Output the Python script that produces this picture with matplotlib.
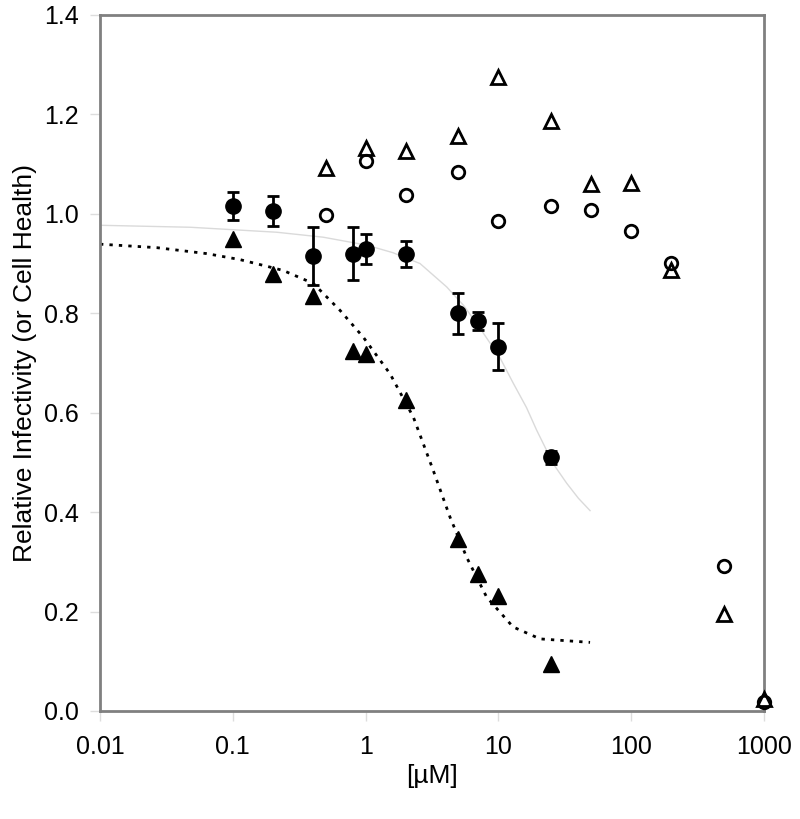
import matplotlib
matplotlib.use("Agg")
import matplotlib.pyplot as plt
from matplotlib.ticker import FixedLocator, FixedFormatter, NullLocator

plt.rcParams['font.family'] = ['Liberation Sans', 'DejaVu Sans']

# Filled circles (infectivity, with error bars)
fc_x = [0.1, 0.2, 0.4, 0.8, 1.0, 2, 5, 7, 10, 25]
fc_y = [1.015, 1.005, 0.915, 0.920, 0.930, 0.920, 0.800, 0.785, 0.733, 0.510]
fc_err = [0.028, 0.030, 0.058, 0.053, 0.030, 0.026, 0.041, 0.018, 0.047, 0.013]

# Filled triangles
ft_x = [0.1, 0.2, 0.4, 0.8, 1.0, 2, 5, 7, 10, 25]
ft_y = [0.950, 0.878, 0.835, 0.725, 0.718, 0.625, 0.345, 0.275, 0.232, 0.095]

# Open circles (cell health)
oc_x = [0.5, 1, 2, 5, 10, 25, 50, 100, 200, 500, 1000]
oc_y = [0.997, 1.107, 1.037, 1.085, 0.985, 1.015, 1.008, 0.965, 0.902, 0.292, 0.018]

# Open triangles (cell health)
ot_x = [0.5, 1, 2, 5, 10, 25, 50, 100, 200, 500, 1000]
ot_y = [1.092, 1.132, 1.127, 1.157, 1.275, 1.187, 1.060, 1.062, 0.887, 0.195, 0.025]

# Fitted curve for filled circles (light grey solid)
gc_x = [0.01, 0.048, 0.214, 0.48, 1.02, 1.6, 2.57, 4.08, 5.5, 7.27, 10.3, 12.9, 16.3, 19.4, 25.9, 32.7, 40.0, 49]
gc_y = [0.977, 0.973, 0.963, 0.953, 0.937, 0.922, 0.900, 0.853, 0.815, 0.770, 0.710, 0.660, 0.610, 0.565, 0.497, 0.458, 0.428, 0.403]

# Fitted curve for filled triangles (dotted)
dc_x = [0.01, 0.0267, 0.0636, 0.113, 0.19, 0.24, 0.404, 0.641, 0.96, 1.53, 2.29, 3.23, 4.32, 5.77, 8.16, 12.9, 20.6, 49]
dc_y = [0.939, 0.932, 0.920, 0.908, 0.893, 0.886, 0.860, 0.806, 0.752, 0.678, 0.591, 0.484, 0.390, 0.309, 0.229, 0.169, 0.145, 0.138]

xticks = [0.01, 0.1, 1, 10, 100, 1000]
xticklabels = ['0.01', '0.1', '1', '10', '100', '1000']
yticks = [0.0, 0.2, 0.4, 0.6, 0.8, 1.0, 1.2, 1.4]
yticklabels = ['0.0', '0.2', '0.4', '0.6', '0.8', '1.0', '1.2', '1.4']

fig = plt.figure(figsize=(8.0, 8.19), dpi=100)
ax = fig.add_axes([0.125, 0.1319, 0.83, 0.8498])

ax.plot(gc_x, gc_y, color='#dadada', lw=1.0, zorder=1)
ax.plot(dc_x, dc_y, color='black', lw=2.0, linestyle=(0, (1.2, 2.2)), zorder=1)

eb = ax.errorbar(fc_x, fc_y, yerr=fc_err, fmt='o', color='black', ms=11, ecolor='black',
                 elinewidth=2, capsize=4.5, capthick=2, zorder=3)
for cap in eb[1]:
    cap.set_zorder(3.5)
ax.plot(ft_x, ft_y, '^', color='black', ms=11, linestyle='none', zorder=3)
ax.plot(oc_x, oc_y, 'o', mfc='white', mec='black', mew=2, ms=9, linestyle='none', zorder=4, clip_on=False)
ax.plot(ot_x, ot_y, '^', mfc='none', mec='black', mew=2, ms=10, linestyle='none', zorder=4, clip_on=False)

ax.set_xscale('log')
ax.set_xlim(0.01, 1000)
ax.set_ylim(0, 1.4)
ax.xaxis.set_major_locator(FixedLocator(xticks))
ax.xaxis.set_major_formatter(FixedFormatter(xticklabels))
ax.xaxis.set_minor_locator(NullLocator())
ax.set_yticks(yticks)
ax.set_yticklabels(yticklabels)

for s in ax.spines.values():
    s.set_color('#808080')
    s.set_linewidth(2)

ax.tick_params(axis='both', which='major', direction='out', length=7, width=1,
               color='#dddddd', labelsize=18, labelcolor='black')
ax.tick_params(axis='x', pad=10)
ax.tick_params(axis='y', pad=8)

ax.set_xlabel('[\u00b5M]', fontsize=19, labelpad=4)
ax.set_ylabel('Relative Infectivity (or Cell Health)', fontsize=19, labelpad=5)

fig.savefig('out.png', dpi=100)
